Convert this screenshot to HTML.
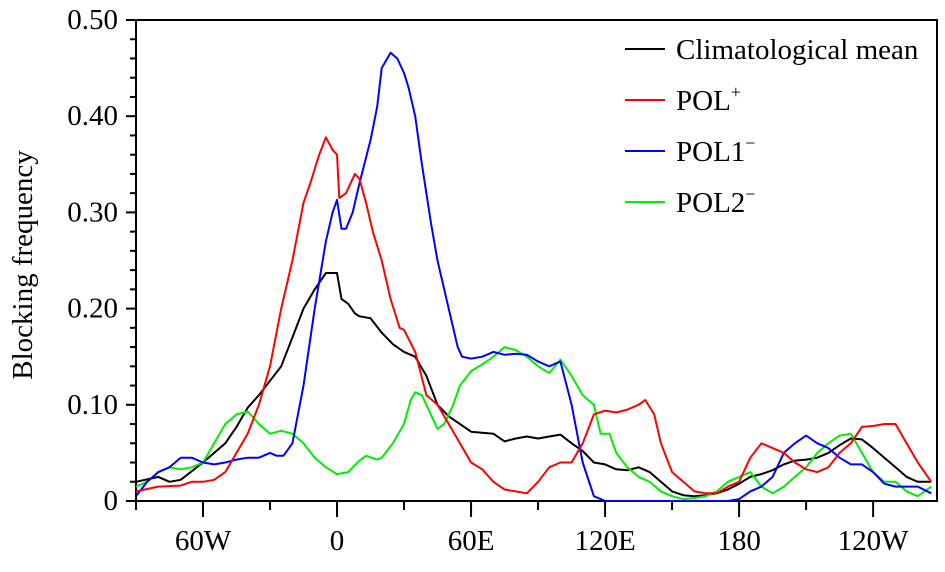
<!DOCTYPE html>
<html><head><meta charset="utf-8"><style>
body{margin:0;background:#fff}
svg text{font-family:"Liberation Serif",serif;fill:#000}
</style></head><body>
<svg id="chart" width="945" height="567" viewBox="0 0 945 567" xmlns="http://www.w3.org/2000/svg">
<g id="axes"></g>
<g id="series"></g>
<g id="legend"></g>
</svg>
<script>
const yTicks=[0,0.10,0.20,0.30,0.40,0.50];
const yTickLabels=["0","0.10","0.20","0.30","0.40","0.50"];
const xTicks=[-60,0,60,120,180,240];
const xTickLabels=["60W","0","60E","120E","180","120W"];
const meanLon=[-90,-80,-75,-70,-60,-50,-45,-40,-35,-30,-25,-20,-15,-10,-5,0,2,5,8,10,15,20,25,30,35,40,45,50,55,60,65,70,75,80,85,90,95,100,105,110,115,120,125,130,135,140,145,150,155,160,165,170,175,180,185,190,195,200,205,210,215,220,225,230,235,240,245,250,255,260,266];
const meanVal=[0.02,0.025,0.02,0.022,0.04,0.06,0.077,0.097,0.11,0.125,0.14,0.17,0.2,0.22,0.237,0.237,0.21,0.205,0.195,0.192,0.19,0.175,0.163,0.155,0.15,0.13,0.1,0.088,0.08,0.072,0.071,0.07,0.062,0.065,0.067,0.065,0.067,0.069,0.06,0.052,0.04,0.038,0.033,0.032,0.035,0.03,0.02,0.01,0.006,0.005,0.006,0.008,0.012,0.018,0.025,0.028,0.032,0.038,0.042,0.043,0.045,0.05,0.058,0.065,0.064,0.055,0.045,0.035,0.025,0.02,0.02];
const polPlusLon=[-90,-80,-70,-65,-60,-55,-50,-45,-40,-35,-30,-25,-20,-15,-12,-8,-5,-2,0,1,4,8,10,13,16,20,24,28,30,35,40,45,50,55,60,65,70,75,80,85,90,95,100,105,110,115,120,125,130,135,138,142,145,150,155,160,165,170,175,180,185,190,195,200,205,210,215,220,225,230,235,240,245,250,255,260,266];
const polPlusVal=[0.01,0.015,0.016,0.02,0.02,0.022,0.03,0.05,0.07,0.1,0.14,0.2,0.25,0.31,0.33,0.36,0.378,0.365,0.36,0.315,0.32,0.34,0.335,0.31,0.28,0.25,0.21,0.18,0.178,0.155,0.11,0.1,0.08,0.06,0.04,0.033,0.02,0.012,0.01,0.008,0.02,0.035,0.04,0.04,0.06,0.09,0.094,0.092,0.095,0.1,0.105,0.09,0.06,0.03,0.02,0.01,0.008,0.008,0.015,0.02,0.045,0.06,0.055,0.05,0.04,0.033,0.03,0.035,0.05,0.06,0.077,0.078,0.08,0.08,0.06,0.04,0.02];
const pol1Lon=[-90,-85,-80,-75,-70,-65,-60,-55,-50,-45,-40,-35,-30,-27,-24,-20,-15,-10,-5,-2,0,2,4,7,10,15,18,20,24,27,30,32,35,38,42,45,50,54,56,60,65,70,75,80,85,90,95,100,105,110,115,120,175,180,185,190,195,200,205,210,215,220,225,230,235,240,245,250,255,260,266];
const pol1Val=[0.005,0.02,0.03,0.035,0.045,0.045,0.04,0.038,0.04,0.043,0.045,0.045,0.05,0.047,0.047,0.06,0.12,0.2,0.27,0.3,0.313,0.283,0.283,0.3,0.33,0.375,0.41,0.45,0.466,0.46,0.445,0.43,0.4,0.35,0.29,0.25,0.2,0.16,0.15,0.148,0.15,0.155,0.152,0.153,0.152,0.145,0.14,0.145,0.1,0.04,0.005,0,0,0.002,0.01,0.015,0.025,0.05,0.06,0.068,0.06,0.055,0.045,0.038,0.038,0.03,0.018,0.015,0.015,0.015,0.008];
const pol2Lon=[-90,-85,-80,-75,-70,-65,-60,-55,-50,-45,-40,-35,-30,-25,-20,-15,-10,-5,0,5,10,13,18,20,25,30,33,35,38,42,45,48,52,55,60,65,70,75,80,85,90,95,100,105,110,115,118,122,125,130,135,140,145,150,155,160,165,170,175,180,185,190,195,200,205,210,215,220,225,230,235,240,245,250,255,260,266];
const pol2Val=[0.015,0.02,0.03,0.035,0.033,0.035,0.04,0.06,0.08,0.09,0.093,0.08,0.07,0.073,0.07,0.06,0.045,0.035,0.028,0.03,0.042,0.047,0.043,0.045,0.06,0.08,0.105,0.113,0.11,0.09,0.075,0.08,0.1,0.12,0.135,0.142,0.15,0.16,0.157,0.15,0.14,0.133,0.147,0.13,0.11,0.1,0.07,0.07,0.05,0.035,0.025,0.02,0.01,0.005,0.002,0.003,0.005,0.01,0.02,0.025,0.03,0.015,0.008,0.015,0.025,0.035,0.05,0.06,0.068,0.07,0.05,0.03,0.02,0.02,0.01,0.005,0.015];

const NS="http://www.w3.org/2000/svg";
const L=136,R=937,T=20,B=501,X0=-90,X1=268.6,YMAX=0.5;
const xs=v=>L+(v-X0)/(X1-X0)*(R-L);
const ys=v=>B-v/YMAX*(B-T);
function mk(tag,attrs,parent){const e=document.createElementNS(NS,tag);for(const k in attrs)e.setAttribute(k,attrs[k]);parent.appendChild(e);return e;}
const axes=document.getElementById('axes');
const frame=mk('rect',{x:L,y:T,width:R-L,height:B-T,fill:'none',stroke:'#000','stroke-width':2},axes);


for(let v=0;v<=0.5001;v+=0.02){
  const major=Math.abs(v*10-Math.round(v*10))<1e-6;
  const t=mk('line',{x1:L,x2:L-(major?10:6),y1:ys(v),y2:ys(v),stroke:'#000','stroke-width':2},axes);
  
  
}
yTicks.forEach((v,i)=>{
  const t=mk('text',{x:118,y:ys(v)+9,'text-anchor':'end','font-size':29},axes);
  t.textContent=yTickLabels[i];
  
  
});
for(let v=-90;v<=268;v+=30){
  const major=v%60===0;
  const t=mk('line',{x1:xs(v),x2:xs(v),y1:B,y2:B+(major?16:9),stroke:'#000','stroke-width':2},axes);
  
  
}
xTicks.forEach((v,i)=>{
  const t=mk('text',{x:xs(v),y:550,'text-anchor':'middle','font-size':29},axes);
  t.textContent=xTickLabels[i];
  
  
});
const yt=mk('text',{x:0,y:0,transform:'translate(32,265) rotate(-90)','text-anchor':'middle','font-size':29},axes);
yt.textContent='Blocking frequency';



const ser=document.getElementById('series');
const defs=[[meanLon,meanVal,'#000','climatological-mean-line'],[pol2Lon,pol2Val,'#00ee00','pol2-minus-line'],[pol1Lon,pol1Val,'#0000ff','pol1-minus-line'],[polPlusLon,polPlusVal,'#ff0000','pol-plus-line']];
defs.forEach(d=>{
  const pts=d[0].map((x,i)=>xs(x).toFixed(1)+','+ys(d[1][i]).toFixed(1)).join(' ');
  const p=mk('polyline',{points:pts,fill:'none',stroke:d[2],'stroke-width':2,'stroke-linejoin':'round'},ser);
  
  
});

const lg=document.getElementById('legend');
const items=[['#000','Climatological mean',''],['#ff0000','POL','+'],['#0000ff','POL1','\u2212'],['#00ee00','POL2','\u2212']];
items.forEach((it,i)=>{
  const y=49+i*51;
  const ln=mk('line',{x1:625,x2:665,y1:y,y2:y,stroke:it[0],'stroke-width':2},lg);
  
  
  const t=mk('text',{x:676,y:y+10,'font-size':29},lg);
  t.textContent=it[1];
  if(it[2]){const s=mk('tspan',{dy:-12,'font-size':18},t);s.textContent=it[2];}
  
  
});
</script>
</body></html>
